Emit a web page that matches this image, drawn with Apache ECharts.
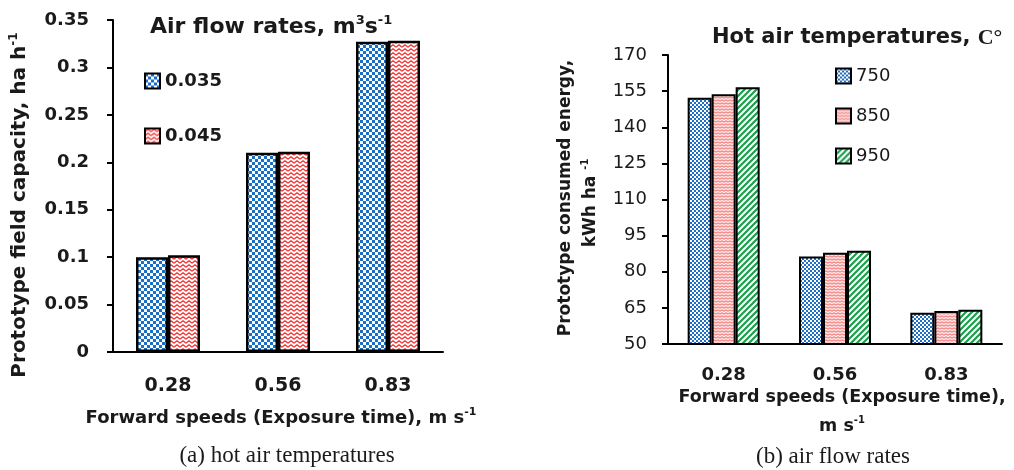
<!DOCTYPE html>
<html>
<head>
<meta charset="utf-8">
<script src="https://cdn.jsdelivr.net/npm/echarts@6/dist/echarts.min.js"></script>
<style>
  html, body { margin: 0; padding: 0; background: #fff; }
  #chart { width: 1014px; height: 470px; }
</style>
</head>
<body>
<div id="chart"></div>
<script>
// Forward speed categories shared by both panels
const categories = ['0.28', '0.56', '0.83'];

// Panel (a): field capacity, ha/h, per air flow rate
const flowNames = ['0.035', '0.045'];
const flow035 = [0.100, 0.210, 0.327];
const flow045 = [0.102, 0.211, 0.328];
const leftTicks = [0, 0.05, 0.1, 0.15, 0.2, 0.25, 0.3, 0.35];

// Panel (b): consumed energy, kWh/ha, per hot air temperature
const tempNames = ['750', '850', '950'];
const temp750 = [152.3, 86.3, 63.0];
const temp850 = [153.7, 87.9, 63.7];
const temp950 = [156.6, 88.7, 64.2];
const rightTicks = [50, 65, 80, 95, 110, 125, 140, 155, 170];

const SANS = '"DejaVu Sans", sans-serif';
const SERIF = '"Liberation Serif", "DejaVu Serif", serif';
const INK = '#1a1a1a';

// Small canvas tiles used as hatch fills for the bars
function tile(w, h, draw) {
  const c = document.createElement('canvas');
  c.width = w; c.height = h;
  const ctx = c.getContext('2d');
  ctx.fillStyle = '#fff';
  ctx.fillRect(0, 0, w, h);
  draw(ctx, w, h);
  return { image: c, repeat: 'repeat' };
}
function checker(size, color) {
  return tile(size * 2, size * 2, (ctx) => {
    ctx.fillStyle = color;
    ctx.fillRect(0, 0, size, size);
    ctx.fillRect(size, size, size, size);
  });
}
function zigzag(w, h, color, lw, bg) {
  return tile(w, h, (ctx) => {
    if (bg) { ctx.fillStyle = bg; ctx.fillRect(0, 0, w, h); }
    ctx.strokeStyle = color;
    ctx.lineWidth = lw;
    ctx.beginPath();
    ctx.moveTo(0, h - 0.8);
    ctx.lineTo(w / 2, 0.8);
    ctx.lineTo(w, h - 0.8);
    ctx.stroke();
  });
}
function stripes(s, color, lw) {
  return tile(s, s, (ctx) => {
    ctx.strokeStyle = color;
    ctx.lineWidth = lw;
    ctx.beginPath();
    ctx.moveTo(-1, s + 1); ctx.lineTo(s + 1, -1);
    ctx.moveTo(-1, 1); ctx.lineTo(1, -1);
    ctx.moveTo(s - 1, s + 1); ctx.lineTo(s + 1, s - 1);
    ctx.stroke();
  });
}

const fillBlueA = checker(3, '#1a6fc4');
const fillRedA = zigzag(6, 4, '#ef3b3b', 1.3);
const fillBlueB = checker(2, '#1f6fc6');
const fillRedB = zigzag(4, 3, '#f06666', 1, '#fde3e3');
const fillGreenB = stripes(6, '#19a04c', 2.2);

const chart = echarts.init(document.getElementById('chart'));

const axisLineStyle = { color: '#000', width: 2 };
function barItem(fill, bw) {
  return { color: fill, borderColor: '#000', borderWidth: bw };
}
function supText(x, y, text, size, supSize, rot) {
  return {
    type: 'text', x: x, y: y, rotation: rot || 0,
    style: {
      text: text, font: 'bold ' + size + 'px ' + SANS, fill: INK, lineHeight: size + 4,
      align: 'center', verticalAlign: 'middle',
      rich: {
        sup: { font: 'bold ' + supSize + 'px ' + SANS, fill: INK, verticalAlign: 'top', lineHeight: supSize }
      }
    }
  };
}

chart.setOption({
  animation: false,
  textStyle: { fontFamily: SANS, color: INK },
  grid: [
    { left: 113, top: 20, width: 330, height: 332 },
    { left: 668, top: 55, width: 334, height: 289 }
  ],
  xAxis: [
    {
      gridIndex: 0, type: 'category', data: categories,
      axisLine: { lineStyle: axisLineStyle },
      axisTick: { length: 7, lineStyle: axisLineStyle },
      axisLabel: { fontSize: 19, fontWeight: 'bold', color: INK, margin: 25 }
    },
    {
      gridIndex: 1, type: 'category', data: categories,
      axisLine: { lineStyle: axisLineStyle },
      axisTick: { length: 7, lineStyle: axisLineStyle },
      axisLabel: { fontSize: 18, fontWeight: 'bold', color: INK, margin: 22 }
    }
  ],
  yAxis: [
    {
      gridIndex: 0, type: 'value', min: 0, max: 0.35,
      axisLine: { show: true, lineStyle: axisLineStyle },
      axisTick: { show: true, length: 6, lineStyle: axisLineStyle, customValues: leftTicks },
      axisLabel: { fontSize: 18, fontWeight: 'bold', color: INK, margin: 24, customValues: leftTicks },
      splitLine: { show: false }
    },
    {
      gridIndex: 1, type: 'value', min: 50, max: 170,
      axisLine: { show: true, lineStyle: axisLineStyle },
      axisTick: { show: true, length: 6, lineStyle: axisLineStyle, customValues: rightTicks },
      axisLabel: { fontSize: 18, color: INK, margin: 21, customValues: rightTicks },
      splitLine: { show: false }
    }
  ],
  legend: [
    {
      data: flowNames, orient: 'vertical', left: 139, top: 67,
      icon: 'rect', itemWidth: 15, itemHeight: 15, itemGap: 37,
      itemStyle: { borderColor: '#000', borderWidth: 2 },
      textStyle: { fontSize: 18, fontWeight: 'bold', color: INK }
    },
    {
      data: tempNames, orient: 'vertical', left: 830, top: 62,
      icon: 'rect', itemWidth: 15, itemHeight: 15, itemGap: 22,
      itemStyle: { borderColor: '#000', borderWidth: 2 },
      textStyle: { fontSize: 18, color: INK }
    }
  ],
  series: [
    { name: flowNames[0], type: 'bar', xAxisIndex: 0, yAxisIndex: 0, data: flow035,
      barWidth: 32, barGap: '0%', itemStyle: barItem(fillBlueA, 2.5) },
    { name: flowNames[1], type: 'bar', xAxisIndex: 0, yAxisIndex: 0, data: flow045,
      barWidth: 32, barGap: '0%', itemStyle: barItem(fillRedA, 2.5) },
    { name: tempNames[0], type: 'bar', xAxisIndex: 1, yAxisIndex: 1, data: temp750,
      barWidth: 24, barGap: '0%', itemStyle: barItem(fillBlueB, 2) },
    { name: tempNames[1], type: 'bar', xAxisIndex: 1, yAxisIndex: 1, data: temp850,
      barWidth: 24, barGap: '0%', itemStyle: barItem(fillRedB, 2) },
    { name: tempNames[2], type: 'bar', xAxisIndex: 1, yAxisIndex: 1, data: temp950,
      barWidth: 24, barGap: '0%', itemStyle: barItem(fillGreenB, 2) }
  ],
  graphic: [
    // Panel (a) legend heading
    {
      type: 'text', left: 150, top: 14,
      style: {
        text: 'Air flow rates, m{sup|3}s{sup|-1}',
        font: 'bold 22px ' + SANS, fill: INK, lineHeight: 27,
        rich: {
          sup: { font: 'bold 13px ' + SANS, fill: INK, verticalAlign: 'top', lineHeight: 13 }
        }
      }
    },
    // Panel (a) axis titles
    supText(20, 205, 'Prototype field capacity, ha h{sup|-1}', 20, 12, Math.PI / 2),
    supText(281, 418, 'Forward speeds (Exposure time), m s{sup|-1}', 18, 11, 0),
    // Panel (a) caption
    {
      type: 'text', x: 287, y: 456,
      style: {
        text: '(a) hot air temperatures', font: '23px ' + SERIF, fill: INK,
        align: 'center', verticalAlign: 'middle'
      }
    },
    // Panel (b) legend heading
    {
      type: 'text', left: 712, top: 27,
      style: {
        text: 'Hot air temperatures, {c|C°}',
        font: 'bold 21px ' + SANS, fill: INK,
        rich: { c: { font: 'bold 22px ' + SERIF, fill: INK } }
      }
    },
    // Panel (b) axis titles, two lines each
    supText(566, 198, 'Prototype consumed energy,', 17, 10, Math.PI / 2),
    supText(591, 203, 'kWh ha {sup|-1}', 17, 10, Math.PI / 2),
    supText(842, 397, 'Forward speeds (Exposure time),', 17.5, 10, 0),
    supText(842, 426, 'm s{sup|-1}', 17.5, 10, 0),
    // Panel (b) caption
    {
      type: 'text', x: 833, y: 457,
      style: {
        text: '(b) air flow rates', font: '23px ' + SERIF, fill: INK,
        align: 'center', verticalAlign: 'middle'
      }
    }
  ]
});
</script>
</body>
</html>
